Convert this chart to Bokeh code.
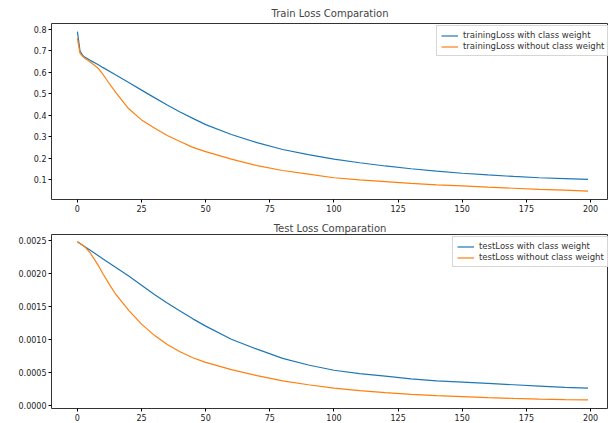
from bokeh.plotting import figure
from bokeh.layouts import column
from bokeh.models import FixedTicker, Legend, LegendItem, NumeralTickFormatter
from bokeh.embed import file_html
from bokeh.resources import INLINE

train_epochs_w = [0, 1, 2, 3, 5, 8, 10, 15, 20, 25, 30, 35, 40, 45, 50, 60, 70, 80, 90, 100,
                  110, 120, 130, 140, 150, 160, 170, 180, 190, 199]
train_with_weight = [0.79, 0.70, 0.68, 0.67, 0.656, 0.637, 0.622, 0.588, 0.553, 0.517, 0.482,
                     0.448, 0.415, 0.385, 0.356, 0.31, 0.272, 0.24, 0.216, 0.195, 0.178, 0.163,
                     0.15, 0.139, 0.129, 0.121, 0.114, 0.108, 0.104, 0.10]

train_epochs_wo = [0, 1, 2, 3, 5, 8, 10, 12, 15, 20, 25, 30, 35, 40, 45, 50, 60, 70, 80, 90, 100,
                   110, 120, 130, 140, 150, 160, 170, 180, 190, 199]
train_without_weight = [0.76, 0.69, 0.675, 0.665, 0.648, 0.62, 0.59, 0.555, 0.505, 0.43, 0.378,
                        0.34, 0.305, 0.277, 0.25, 0.23, 0.195, 0.165, 0.142, 0.125, 0.108, 0.098,
                        0.09, 0.082, 0.075, 0.07, 0.064, 0.059, 0.054, 0.05, 0.046]

test_epochs_w = [0, 5, 10, 15, 20, 25, 30, 35, 40, 45, 50, 60, 70, 80, 90, 100, 110, 120, 130,
                 140, 150, 160, 170, 180, 190, 199]
test_with_weight = [0.00248, 0.00235, 0.00222, 0.00209, 0.00196, 0.00182, 0.00168, 0.00155,
                    0.00143, 0.00131, 0.0012, 0.001, 0.00085, 0.00071, 0.00061, 0.00053,
                    0.00048, 0.00044, 0.00040, 0.00037, 0.00035, 0.00033, 0.00031, 0.00029,
                    0.00027, 0.00026]

test_epochs_wo = [0, 3, 5, 8, 10, 13, 15, 20, 25, 30, 35, 40, 45, 50, 60, 70, 80, 90, 100, 110,
                  120, 130, 140, 150, 160, 170, 180, 190, 199]
test_without_weight = [0.00248, 0.0024, 0.00231, 0.00213, 0.00199, 0.0018, 0.00168, 0.00144,
                       0.00123, 0.00106, 0.00092, 0.00081, 0.00072, 0.00065, 0.00054, 0.00045,
                       0.00037, 0.00031, 0.00026, 0.00022, 0.00019, 0.000165, 0.000145, 0.00013,
                       0.000115, 0.000103, 0.000093, 0.000085, 0.00008]

x_ticks = [0, 25, 50, 75, 100, 125, 150, 175, 200]
train_y_ticks = [0.1, 0.2, 0.3, 0.4, 0.5, 0.6, 0.7, 0.8]
test_y_ticks = [0.0, 0.0005, 0.0010, 0.0015, 0.0020, 0.0025]

BLUE = "#1f77b4"
ORANGE = "#ff7f0e"
FONT = "DejaVu Sans"


def style(p, yticks, standoff):
    p.title.align = "center"
    p.title.text_font = FONT
    p.title.text_font_size = "10px"
    p.title.text_font_style = "normal"
    p.title.standoff = standoff
    p.outline_line_color = "#333333"
    p.outline_line_width = 1
    p.xgrid.visible = False
    p.ygrid.visible = False
    for ax in (p.xaxis[0], p.yaxis[0]):
        ax.axis_line_color = None
        ax.major_tick_in = 0
        ax.major_tick_out = 3
        ax.minor_tick_line_color = None
        ax.major_label_text_font = FONT
        ax.major_label_text_font_size = "8px"
        ax.major_label_text_color = "#222222"
        ax.major_label_standoff = 2
    p.xaxis[0].ticker = FixedTicker(ticks=x_ticks)
    p.yaxis[0].ticker = FixedTicker(ticks=yticks)


def make(title, xr, yr, ex1, y1, ex2, y2, lab1, lab2, top, bottom, fh, legend_loc):
    p = figure(title=title, frame_width=557, frame_height=fh, x_range=xr, y_range=yr,
               output_backend="svg", toolbar_location=None,
               min_border_left=51, min_border_right=0, min_border_top=top,
               min_border_bottom=bottom)
    r1 = p.line(ex1, y1, line_color=BLUE, line_width=1.2)
    r2 = p.line(ex2, y2, line_color=ORANGE, line_width=1.2)
    leg = Legend(items=[LegendItem(label=lab1, renderers=[r1]),
                        LegendItem(label=lab2, renderers=[r2])],
                 location=legend_loc)
    leg.label_text_font = FONT
    leg.label_text_font_size = "8.5px"
    leg.label_text_color = "#333333"
    leg.glyph_width = 17
    leg.glyph_height = 9
    leg.label_height = 9
    leg.spacing = 1
    leg.padding = 4
    leg.margin = 0
    leg.border_line_color = "#cccccc"
    leg.border_line_alpha = 0.8
    leg.background_fill_alpha = 0.8
    p.add_layout(leg)
    return p


p1 = make("Train Loss Comparation", (-10.1, 207), (0.0065, 0.828),
          train_epochs_w, train_with_weight, train_epochs_wo, train_without_weight,
          "trainingLoss with class weight", "trainingLoss without class weight",
          22, 14, 176, (385, 143))
style(p1, train_y_ticks, 10)

p2 = make("Test Loss Comparation", (-10.1, 207), (-0.00005, 0.00259),
          test_epochs_w, test_with_weight, test_epochs_wo, test_without_weight,
          "testLoss with class weight", "testLoss without class weight",
          20, 13, 174, (401, 141))
style(p2, test_y_ticks, 2)
p2.yaxis[0].formatter = NumeralTickFormatter(format="0.0000")

layout = column(p1, p2, spacing=0)
open("out.html", "w").write(file_html(layout, INLINE))
